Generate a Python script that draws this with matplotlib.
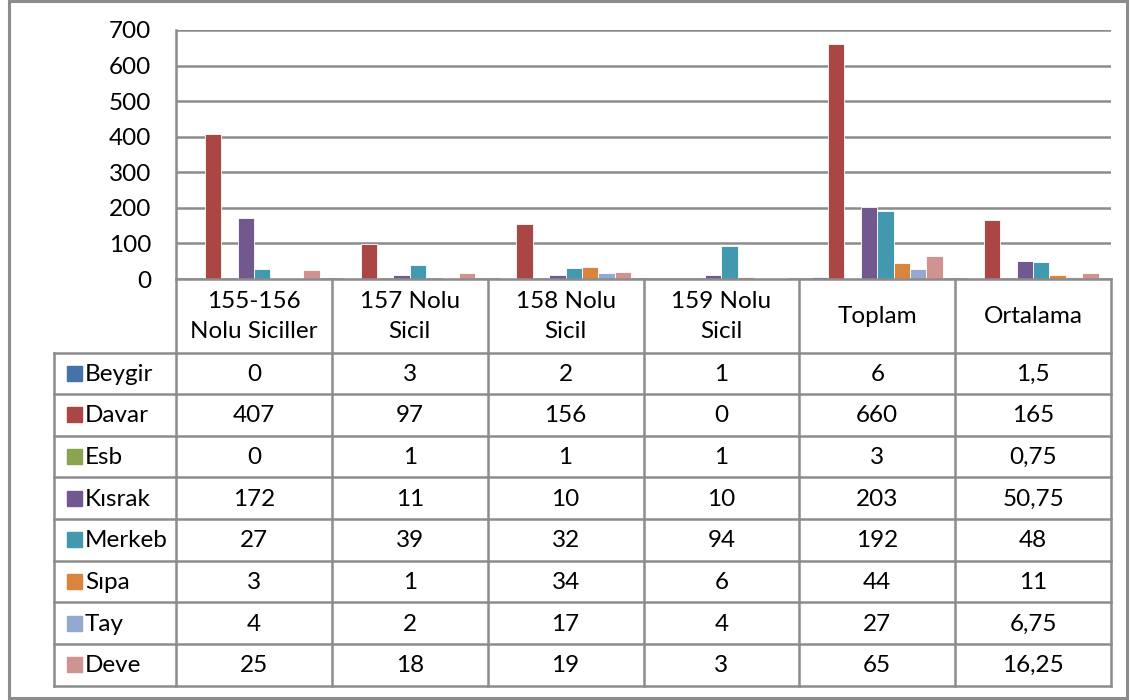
import matplotlib
matplotlib.use("Agg")
import matplotlib.pyplot as plt
from matplotlib.lines import Line2D
from matplotlib.patches import Rectangle
import numpy as np

plt.rcParams['font.family'] = ['Lato', 'DejaVu Sans']

categories = ["155-156\nNolu Siciller", "157 Nolu\nSicil", "158 Nolu\nSicil",
              "159 Nolu\nSicil", "Toplam", "Ortalama"]
series_names = ["Beygir", "Davar", "Esb", "Kısrak", "Merkeb", "Sıpa", "Tay", "Deve"]
beygir = [0, 3, 2, 1, 6, 1.5]
davar = [407, 97, 156, 0, 660, 165]
esb = [0, 1, 1, 1, 3, 0.75]
kisrak = [172, 11, 10, 10, 203, 50.75]
merkeb = [27, 39, 32, 94, 192, 48]
sipa = [3, 1, 34, 6, 44, 11]
tay = [4, 2, 17, 4, 27, 6.75]
deve = [25, 18, 19, 3, 65, 16.25]
series = [beygir, davar, esb, kisrak, merkeb, sipa, tay, deve]
colors = ["#4572A7", "#AA4643", "#89A54E", "#71588F", "#4198AF", "#DB843D", "#93A9CF", "#D19392"]
yticks = [0, 100, 200, 300, 400, 500, 600, 700]

FS = 17.5
W, H = 1130, 700
fig = plt.figure(figsize=(W / 100, H / 100), dpi=100)

# pixel geometry
L, R, T, B = 176, 1111, 30, 279
ax = fig.add_axes([L / W, 1 - B / H, (R - L) / W, (B - T) / H])

grid_c = "#8c8c8c"
n = len(series)
bw = 1 / (n + 1.5)
x = np.arange(len(categories))
for i, (vals, c) in enumerate(zip(series, colors)):
    ax.bar(x - 4 * bw + (i + 0.5) * bw, vals, width=bw, color=c,
           edgecolor="white", linewidth=0.6, zorder=3)

ax.set_xlim(-0.5, len(categories) - 0.5)
ax.set_ylim(0, 700)
ax.set_yticks(yticks)
ax.set_yticklabels([str(t) for t in yticks], fontsize=FS)
ax.tick_params(axis='y', length=0, pad=18)
ax.set_xticks([])
ax.yaxis.grid(True, color=grid_c, linewidth=1.8, zorder=0)
for s in ["top", "right", "bottom"]:
    ax.spines[s].set_visible(False)
ax.spines["left"].set_color(grid_c)
ax.spines["left"].set_linewidth(1.8)
ax.set_axisbelow(True)


def fx(px):
    return px / W


def fy(py):
    return 1 - py / H


def line(x0, y0, x1, y1, lw=1.8, c=grid_c):
    fig.add_artist(Line2D([fx(x0), fx(x1)], [fy(y0), fy(y1)], color=c, lw=lw,
                          transform=fig.transFigure, solid_capstyle='projecting'))


# table geometry
colw = (R - L) / len(categories)
colx = [L + k * colw for k in range(len(categories) + 1)]
hdr_top, hdr_bot = B, 352.5
rowh = (685.5 - hdr_bot) / n
rows_y = [hdr_bot + k * rowh for k in range(n + 1)]
leg_left = 54

# axis baseline
line(L, B, R, B)
# header verticals
for cx in colx:
    line(cx, hdr_top, cx, rows_y[-1])
# horizontal lines for body rows
for ry in rows_y:
    line(leg_left, ry, R, ry)
line(leg_left, hdr_bot, leg_left, rows_y[-1])

# header texts
for k, cat in enumerate(categories):
    fig.text(fx(colx[k] + colw / 2), fy((hdr_top + hdr_bot) / 2 + 1), cat,
             ha='center', va='center', fontsize=FS, linespacing=1.5)


def fmt(v):
    s = ('%g' % v)
    return s.replace('.', ',')


for r, (name, vals, c) in enumerate(zip(series_names, series, colors)):
    yc = (rows_y[r] + rows_y[r + 1]) / 2
    fig.add_artist(Rectangle((fx(67), fy(yc + 7.5)), 15 / W, 15 / H, color=c,
                             transform=fig.transFigure))
    fig.text(fx(85), fy(yc + 1), name, ha='left', va='center', fontsize=FS)
    for k, v in enumerate(vals):
        fig.text(fx(colx[k] + colw / 2), fy(yc + 1), fmt(v), ha='center',
                 va='center', fontsize=FS)

# outer border
fig.add_artist(Rectangle((fx(9), fy(698)), (1127 - 9) / W, (698 - 1) / H,
                         fill=False, edgecolor=grid_c, lw=2.2,
                         transform=fig.transFigure))

fig.savefig("out.png", dpi=100)
